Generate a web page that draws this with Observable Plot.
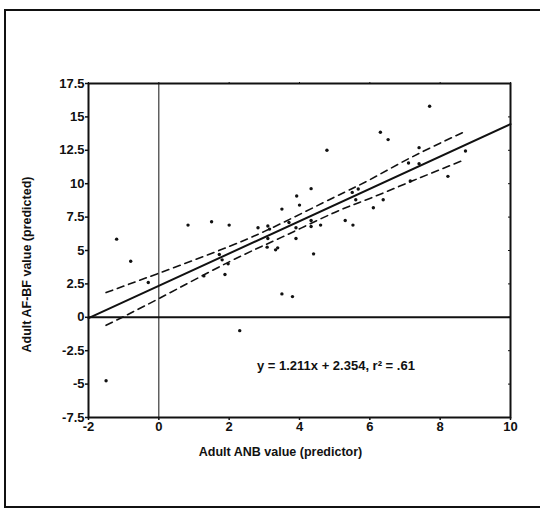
<!DOCTYPE html>
<html>
<head>
<meta charset="utf-8">
<script src="https://cdn.jsdelivr.net/npm/d3@7"></script>
<script src="https://cdn.jsdelivr.net/npm/@observablehq/plot@0.6"></script>
<style>
  html, body { margin: 0; padding: 0; background: #fff; }
  #wrap { position: relative; width: 540px; height: 509px; overflow: hidden; }
  #border { position: absolute; left: 4px; top: 9px; width: 545px; height: 495px;
            border-left: 2px solid #111; border-top: 2px solid #111; border-bottom: 2px solid #111;
            pointer-events: none; }
</style>
</head>
<body>
<div id="wrap"><div id="border"></div></div>
<script>
// Scatter points: Adult ANB (x) vs Adult AF-BF (y)
const pointX = [-1.5, -1.2, -0.8, -0.3, 0.83, 1.5, 2.0, 1.28, 1.88, 1.72, 1.8, 1.97, 2.3,
  2.82, 3.1, 3.15, 3.1, 3.08, 3.32, 3.38, 3.5, 3.5, 3.8, 3.7, 3.9, 3.9, 3.92, 4.0,
  4.33, 4.33, 4.33, 4.6, 4.4, 4.78, 5.3, 5.52, 5.5, 5.67, 5.6, 6.1, 6.38, 6.3, 6.52,
  7.1, 7.4, 7.4, 7.7, 7.15, 8.22, 8.72];
const pointY = [-4.75, 5.85, 4.2, 2.6, 6.9, 7.15, 6.9, 3.1, 3.2, 4.7, 4.3, 4.0, -1.0,
  6.7, 6.83, 6.6, 5.9, 5.25, 5.05, 5.2, 8.1, 1.75, 1.55, 7.1, 6.7, 5.9, 9.08, 8.4,
  9.63, 7.25, 6.8, 6.9, 4.75, 12.5, 7.25, 6.9, 9.35, 9.6, 8.8, 8.2, 8.8, 13.85, 13.3,
  11.55, 11.5, 12.7, 15.8, 10.2, 10.55, 12.45];

// Confidence band (dashed)
const bandX     = [-1.5, 0, 2, 3.5, 5, 6, 7.2, 8.7];
const bandUpper = [1.85, 3.3, 5.3, 7.05, 9.0, 10.3, 12.0, 13.9];
const bandLower = [-0.6, 1.4, 4.15, 6.0, 7.85, 8.9, 10.2, 11.8];

// Regression: y = 1.211x + 2.354
const slope = 1.211, intercept = 2.354;
const fitX = [-2, 10];

const xTicks = [-2, 0, 2, 4, 6, 8, 10];
const yTicks = [-7.5, -5, -2.5, 0, 2.5, 5, 7.5, 10, 12.5, 15, 17.5];

const xLabel = "Adult ANB value (predictor)";
const yLabel = "Adult AF-BF value (predicted)";
const equation = "y = 1.211x + 2.354, r² = .61";

const points = pointX.map((x, i) => ({x, y: pointY[i]}));
const upper = bandX.map((x, i) => ({x, y: bandUpper[i]}));
const lower = bandX.map((x, i) => ({x, y: bandLower[i]}));
const fit = fitX.map(x => ({x, y: slope * x + intercept}));

const chart = Plot.plot({
  width: 540,
  height: 509,
  marginLeft: 88,
  marginRight: 30,
  marginTop: 83,
  marginBottom: 92,
  style: { fontFamily: "'Liberation Sans', Arial, sans-serif", fontWeight: "bold", fontSize: "13px", background: "transparent", color: "#111" },
  x: { domain: [-2, 10] },
  y: { domain: [-7.5, 17.5] },
  marks: [
    Plot.ruleX([0], { stroke: "#111", strokeWidth: 1 }),
    Plot.ruleY([0], { stroke: "#111", strokeWidth: 2 }),
    Plot.axisY({ ticks: yTicks, tickSize: 3, tickPadding: 1, tickFormat: d => String(d), label: null, strokeWidth: 1.5 }),
    Plot.axisY({ anchor: "right", ticks: yTicks, tickSize: -3, tickFormat: () => "", label: null }),
    Plot.axisX({ ticks: xTicks, tickSize: 3, tickPadding: 1, tickFormat: d => String(d), label: null, strokeWidth: 1.5 }),
    Plot.axisX({ anchor: "top", ticks: xTicks, tickSize: 2, tickFormat: () => "", label: null }),
    Plot.line(upper, { x: "x", y: "y", curve: "natural", stroke: "#111", strokeWidth: 1.6, strokeDasharray: "7,5" }),
    Plot.line(lower, { x: "x", y: "y", curve: "natural", stroke: "#111", strokeWidth: 1.6, strokeDasharray: "7,5" }),
    Plot.line(fit, { x: "x", y: "y", stroke: "#111", strokeWidth: 2 }),
    Plot.dot(points, { x: "x", y: "y", r: 1.7, fill: "#111", stroke: "none" }),
    Plot.frame({ stroke: "#111", strokeWidth: 2 }),
    Plot.text([equation], { x: 2.79, y: -3.6, text: d => d, textAnchor: "start", fontSize: 13, fontWeight: "bold", fill: "#111" }),
    Plot.text([xLabel], { frameAnchor: "bottom", dy: 34, dx: -19, textAnchor: "middle", lineAnchor: "middle", text: d => d, fontSize: 12.5, fontWeight: "bold", fill: "#111" }),
    Plot.text([yLabel], { frameAnchor: "left", dx: -62, dy: 14, rotate: -90, textAnchor: "middle", lineAnchor: "middle", text: d => d, fontSize: 12.5, fontWeight: "bold", fill: "#111" })
  ]
});
chart.style.position = "absolute";
chart.style.left = "0px";
chart.style.top = "0px";
document.getElementById("wrap").prepend(chart);
</script>
</body>
</html>
